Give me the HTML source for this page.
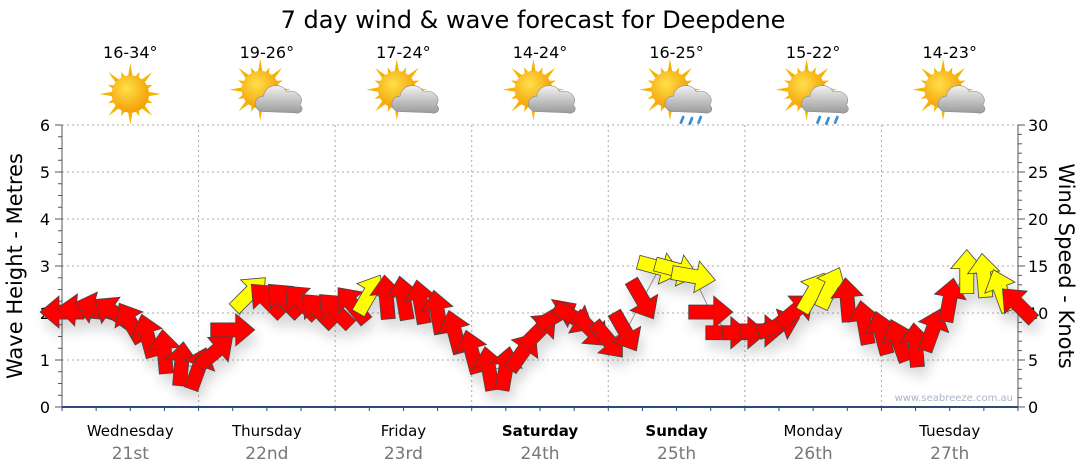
<!DOCTYPE html>
<html><head><meta charset="utf-8">
<style>
html,body{margin:0;padding:0;background:#fff;}
svg{display:block;font-family:"DejaVu Sans","Liberation Sans",sans-serif;}
</style></head>
<body>
<svg id="chart" width="1080" height="475" viewBox="0 0 1080 475" xmlns="http://www.w3.org/2000/svg">
<defs>
<filter id="sh" x="-50%" y="-50%" width="200%" height="200%"><feDropShadow dx="3" dy="9" stdDeviation="6" flood-color="#000" flood-opacity="0.16"/></filter>
<radialGradient id="sunG" cx="0.4" cy="0.35" r="0.7"><stop offset="0" stop-color="#ffe04a"/><stop offset="1" stop-color="#f39a00"/></radialGradient>
<linearGradient id="cloudG" x1="0" y1="0" x2="0" y2="1"><stop offset="0" stop-color="#f2f2f2"/><stop offset="1" stop-color="#9a9a9a"/></linearGradient>
</defs>
<text x="533" y="28" font-size="24" text-anchor="middle" fill="#000">7 day wind &amp; wave forecast for Deepdene</text>
<g id="grid"></g>
<g id="axes"></g>
<g id="icons"></g>
<g id="marks"></g>
<text transform="translate(22,266) rotate(-90)" font-size="21" text-anchor="middle">Wave Height - Metres</text>
<text transform="translate(1059,266) rotate(90)" font-size="21" text-anchor="middle">Wind Speed - Knots</text>
<text x="1013" y="401" font-size="10" fill="#a8b4c8" text-anchor="end">www.seabreeze.com.au</text>
</svg>
<script>
const days = ["Wednesday","Thursday","Friday","Saturday","Sunday","Monday","Tuesday"];
const dates = ["21st","22nd","23rd","24th","25th","26th","27th"];
const boldDays = [false,false,false,true,true,false,false];
const temps = ["16-34°","19-26°","17-24°","14-24°","16-25°","15-22°","14-23°"];
const icons = ["sun","partly","partly","partly","rain","rainlight","partly"];
const waveTicks = [0,1,2,3,4,5,6];
const windTicks = [0,5,10,15,20,25,30];
// wind speed (knots) every 3 hours
const windSpeed = [10.1,10.3,10.5,10.1,9.0,7.6,5.9,4.6,4.1,5.9,8.2,12.1,11.4,11.4,11.2,10.3,10.3,10.9,12.0,11.7,11.6,11.2,10.1,8.0,5.9,4.1,4.1,5.9,8.2,9.8,9.5,8.2,7.1,8.0,11.4,14.8,14.6,13.9,10.1,7.9,7.9,8.1,8.7,10.3,12.2,12.7,11.4,9.0,7.9,7.1,6.6,8.2,11.4,14.4,14.0,12.4,10.9];
// arrow screen direction (deg, 0=right, 90=down)
const windDir = [180,185,195,215,240,255,265,275,290,320,0,315,225,225,225,225,225,230,300,265,260,260,260,255,255,260,280,305,315,330,30,45,50,60,60,15,15,10,0,0,0,0,340,320,300,295,265,260,255,250,265,290,280,270,265,250,225];

const NS="http://www.w3.org/2000/svg";
const X0=62,X1=1018,Y0=407,Y1=125;
const xDay=d=>X0+(X1-X0)*d/7;
const xHour=h=>X0+(X1-X0)*h/168;
const yWave=m=>Y0-(Y0-Y1)*m/6;
const yWind=k=>Y0-(Y0-Y1)*k/30;
function mk(tag,attrs,parent){const e=document.createElementNS(NS,tag);for(const k in attrs)e.setAttribute(k,attrs[k]);parent.appendChild(e);return e;}
const grid=document.getElementById('grid'),axes=document.getElementById('axes'),marks=document.getElementById('marks'),iconsG=document.getElementById('icons');

waveTicks.forEach(m=>{
  if(m>0){const l=mk('line',{x1:X0,x2:X1,y1:yWave(m),y2:yWave(m),stroke:'#aaa','stroke-dasharray':'2,3'},grid);
  
  }
  const t=mk('text',{x:50,y:yWave(m)+6,'font-size':16,'text-anchor':'end'},axes);t.textContent=m;
  
  
});
for(let i=0;i<=24;i++){mk('line',{x1:X0-(i%4?4:7),x2:X0,y1:yWave(i/4),y2:yWave(i/4),stroke:'#555'},axes);}
windTicks.forEach(k=>{
  const t=mk('text',{x:1028,y:yWind(k)+6,'font-size':16},axes);t.textContent=k;
  
  
});
for(let i=0;i<=30;i++){mk('line',{x1:X1,x2:X1+(i%5?4:7),y1:yWind(i),y2:yWind(i),stroke:'#555'},axes);}
mk('line',{x1:X0,x2:X0,y1:Y1,y2:Y0,stroke:'#555'},axes);
mk('line',{x1:X1,x2:X1,y1:Y1,y2:Y0,stroke:'#555'},axes);
for(let d=1;d<7;d++){const l=mk('line',{x1:xDay(d),x2:xDay(d),y1:Y1,y2:Y0,stroke:'#aaa','stroke-dasharray':'2,3'},grid);
  
  }
for(let h=0;h<=168;h+=6){mk('line',{x1:xHour(h),x2:xHour(h),y1:Y0,y2:Y0+4,stroke:'#2a4a7a'},axes);}
mk('line',{x1:X0,x2:X1,y1:Y0,y2:Y0,stroke:'#2a4a7a','stroke-width':2},axes);

days.forEach((d,i)=>{
  const cx=xDay(i+0.5);
  const t=mk('text',{x:cx,y:436,'font-size':15,'text-anchor':'middle','font-weight':boldDays[i]?'bold':'normal'},axes);t.textContent=d;
  
  
  const t2=mk('text',{x:cx,y:459,'font-size':17,'text-anchor':'middle',fill:'#777'},axes);t2.textContent=dates[i];
  
  
  const t3=mk('text',{x:cx,y:58,'font-size':16,'text-anchor':'middle'},iconsG);t3.textContent=temps[i];
  
  
  const g=mk('g',{transform:`translate(${cx},94) scale(1.1)`},iconsG);
  
  
  const sx=icons[i]==='sun'?0:-6, sy=icons[i]==='sun'?0:-4;
  for(let r=0;r<16;r++){const a=r*Math.PI/8,len=r%2?22:28;
    const p1=[sx+Math.cos(a)*len,sy+Math.sin(a)*len],p2=[sx+Math.cos(a+0.18)*14,sy+Math.sin(a+0.18)*14],p3=[sx+Math.cos(a-0.18)*14,sy+Math.sin(a-0.18)*14];
    mk('polygon',{points:`${p1} ${p2} ${p3}`,fill:'#f5b400'},g);}
  mk('circle',{cx:sx,cy:sy,r:17,fill:'url(#sunG)'},g);
  if(icons[i]!=='sun'){
    mk('path',{d:'M-3,16 C-13,16 -13,2 -3,2 C-2,-9 14,-11 18,-2 C27,-5 35,4 30,10 C35,14 30,19 25,17 Z',fill:'url(#cloudG)',stroke:'#888','stroke-width':0.5},g);
    if(icons[i]!=='partly'){
      [[6,21],[14,22],[22,21]].forEach(p=>mk('path',{d:`M${p[0]},${p[1]} l-2,5`,stroke:'#3a8fd8','stroke-width':2.5,'stroke-linecap':'round'},g));
    }
  }
});

let pts=windSpeed.map((k,i)=>`${xHour(i*3)},${yWind(k)}`).join(' ');
const pl=mk('polyline',{points:pts,fill:'none',stroke:'#999','stroke-width':1},marks);


const ag=mk('g',{filter:'url(#sh)'},marks);
windSpeed.forEach((k,i)=>{
  const a=mk('polygon',{points:'-22,-7 3,-7 3,-16 22,0 3,16 3,7 -22,7',fill:k>=12?'#ffff00':'#ff0000',stroke:'#444','stroke-width':0.8,
    transform:`translate(${xHour(i*3)},${yWind(k)}) rotate(${windDir[i]})`},ag);
  
  
});
</script>
</body></html>
